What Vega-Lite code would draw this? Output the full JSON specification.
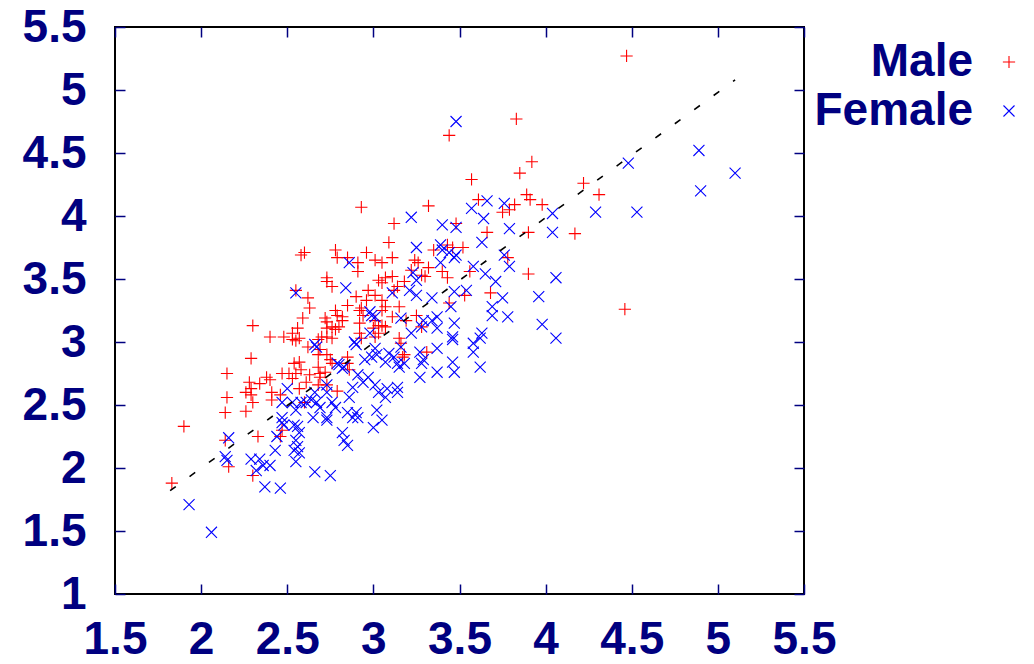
{
 "$schema": "https://vega.github.io/schema/vega-lite/v6.json",
 "width": 689,
 "height": 567,
 "autosize": {"type": "none"},
 "padding": {"left": 115, "top": 27, "right": 230, "bottom": 70},
 "background": "white",
 "config": {
  "view": {"stroke": "#000000", "strokeWidth": 2},
  "font": "Liberation Sans",
  "axis": {"grid": false, "domain": false, "title": null, "labelFont": "Liberation Sans", "labelFontSize": 46, "labelFontWeight": "bold", "labelColor": "#000080", "tickColor": "#000080", "tickWidth": 1.5, "tickSize": -10, "labelFlush": false, "labelOverlap": false, "labelBound": false}
 },
 "datasets": {
  "pts": [
   {"sex":"Male","x":2.30,"y":3.13},{"sex":"Male","x":2.40,"y":3.04},{"sex":"Male","x":2.48,"y":3.04},{"sex":"Male","x":2.53,"y":3.02},{"sex":"Male","x":2.55,"y":3.01},{"sex":"Male","x":2.53,"y":3.07},{"sex":"Male","x":2.29,"y":2.87},{"sex":"Male","x":2.54,"y":2.83},{"sex":"Male","x":2.55,"y":3.41},
   {"sex":"Male","x":2.15,"y":2.75},{"sex":"Male","x":2.28,"y":2.68},{"sex":"Male","x":2.29,"y":2.63},{"sex":"Male","x":2.34,"y":2.67},{"sex":"Male","x":2.38,"y":2.72},{"sex":"Male","x":2.40,"y":2.70},{"sex":"Male","x":2.26,"y":2.60},{"sex":"Male","x":2.29,"y":2.58},{"sex":"Male","x":2.41,"y":2.60},{"sex":"Male","x":2.41,"y":2.54},{"sex":"Male","x":2.15,"y":2.56},{"sex":"Male","x":2.30,"y":2.52},{"sex":"Male","x":2.14,"y":2.44},{"sex":"Male","x":2.26,"y":2.45},{"sex":"Male","x":1.90,"y":2.33},{"sex":"Male","x":2.33,"y":2.25},{"sex":"Male","x":2.14,"y":2.22},{"sex":"Male","x":2.16,"y":2.01},{"sex":"Male","x":2.30,"y":1.94},{"sex":"Male","x":2.46,"y":2.25},{"sex":"Male","x":2.47,"y":2.30},{"sex":"Male","x":1.83,"y":1.88},{"sex":"Male","x":2.47,"y":2.75},{"sex":"Male","x":2.51,"y":2.75},{"sex":"Male","x":2.55,"y":2.75},{"sex":"Male","x":2.53,"y":2.71},{"sex":"Male","x":2.46,"y":2.58},
   {"sex":"Male","x":2.93,"y":4.07},{"sex":"Male","x":3.12,"y":3.94},{"sex":"Male","x":3.09,"y":3.79},{"sex":"Male","x":2.60,"y":3.71},{"sex":"Male","x":2.58,"y":3.69},{"sex":"Male","x":2.78,"y":3.73},{"sex":"Male","x":2.79,"y":3.67},{"sex":"Male","x":2.85,"y":3.67},{"sex":"Male","x":2.91,"y":3.63},{"sex":"Male","x":2.91,"y":3.56},{"sex":"Male","x":2.96,"y":3.71},{"sex":"Male","x":3.01,"y":3.65},{"sex":"Male","x":3.05,"y":3.63},{"sex":"Male","x":3.11,"y":3.67},{"sex":"Male","x":2.73,"y":3.51},{"sex":"Male","x":2.76,"y":3.44},{"sex":"Male","x":2.73,"y":3.48},{"sex":"Male","x":3.24,"y":3.65},{"sex":"Male","x":3.26,"y":3.63},{"sex":"Male","x":3.22,"y":3.57},{"sex":"Male","x":3.28,"y":3.53},{"sex":"Male","x":3.32,"y":3.59},{"sex":"Male","x":3.30,"y":3.52},{"sex":"Male","x":3.03,"y":3.49},{"sex":"Male","x":3.07,"y":3.51},{"sex":"Male","x":3.11,"y":3.52},{"sex":"Male","x":3.05,"y":3.47},{"sex":"Male","x":3.18,"y":3.48},{"sex":"Male","x":3.14,"y":3.44},{"sex":"Male","x":3.12,"y":3.41},{"sex":"Male","x":2.97,"y":3.41},{"sex":"Male","x":3.01,"y":3.37},{"sex":"Male","x":2.96,"y":3.33},{"sex":"Male","x":2.90,"y":3.36},{"sex":"Male","x":2.92,"y":3.25},{"sex":"Male","x":2.85,"y":3.29},{"sex":"Male","x":2.62,"y":3.35},{"sex":"Male","x":2.63,"y":3.27},{"sex":"Male","x":3.05,"y":3.33},{"sex":"Male","x":3.05,"y":3.25},{"sex":"Male","x":3.07,"y":3.28},{"sex":"Male","x":3.15,"y":3.28},{"sex":"Male","x":2.78,"y":3.25},{"sex":"Male","x":2.79,"y":3.21},{"sex":"Male","x":2.82,"y":3.17},{"sex":"Male","x":2.82,"y":3.20},{"sex":"Male","x":2.72,"y":3.19},{"sex":"Male","x":2.73,"y":3.16},{"sex":"Male","x":2.76,"y":3.12},{"sex":"Male","x":2.73,"y":3.11},{"sex":"Male","x":2.78,"y":3.10},{"sex":"Male","x":2.80,"y":3.12},{"sex":"Male","x":2.59,"y":3.19},{"sex":"Male","x":2.93,"y":3.27},{"sex":"Male","x":2.94,"y":3.21},{"sex":"Male","x":2.92,"y":3.15},{"sex":"Male","x":3.01,"y":3.17},{"sex":"Male","x":3.03,"y":3.13},{"sex":"Male","x":3.05,"y":3.13},{"sex":"Male","x":3.07,"y":3.12},{"sex":"Male","x":3.00,"y":3.11},{"sex":"Male","x":3.11,"y":3.20},{"sex":"Male","x":3.25,"y":3.21},{"sex":"Male","x":2.56,"y":3.11},{"sex":"Male","x":2.57,"y":3.03},{"sex":"Male","x":2.70,"y":3.04},{"sex":"Male","x":2.68,"y":3.02},{"sex":"Male","x":2.73,"y":3.04},{"sex":"Male","x":2.76,"y":3.03},{"sex":"Male","x":2.92,"y":3.07},{"sex":"Male","x":2.93,"y":3.03},{"sex":"Male","x":3.01,"y":3.04},{"sex":"Male","x":3.03,"y":3.07},{"sex":"Male","x":3.15,"y":3.03},{"sex":"Male","x":3.16,"y":2.99},{"sex":"Male","x":2.62,"y":2.96},{"sex":"Male","x":2.69,"y":2.94},{"sex":"Male","x":2.68,"y":2.90},{"sex":"Male","x":2.73,"y":2.90},{"sex":"Male","x":2.75,"y":2.86},{"sex":"Male","x":2.76,"y":2.83},{"sex":"Male","x":2.57,"y":2.84},{"sex":"Male","x":2.58,"y":2.78},{"sex":"Male","x":2.85,"y":2.88},{"sex":"Male","x":2.85,"y":2.83},{"sex":"Male","x":2.86,"y":2.78},{"sex":"Male","x":3.17,"y":2.88},{"sex":"Male","x":3.18,"y":2.90},{"sex":"Male","x":3.31,"y":2.92},{"sex":"Male","x":2.68,"y":2.80},{"sex":"Male","x":2.69,"y":2.75},{"sex":"Male","x":3.19,"y":3.17},{"sex":"Male","x":3.28,"y":3.12},{"sex":"Male","x":3.32,"y":4.08},
   {"sex":"Male","x":2.61,"y":2.68},{"sex":"Male","x":2.63,"y":2.74},{"sex":"Male","x":2.69,"y":2.72},{"sex":"Male","x":2.72,"y":2.76},{"sex":"Male","x":2.73,"y":2.66},{"sex":"Male","x":2.79,"y":2.61},{"sex":"Male","x":2.60,"y":2.52},{"sex":"Male","x":2.57,"y":2.63},{"sex":"Male","x":2.68,"y":2.66},
   {"sex":"Male","x":3.89,"y":4.17},{"sex":"Male","x":3.91,"y":4.13},{"sex":"Male","x":3.98,"y":4.09},{"sex":"Male","x":3.61,"y":4.13},{"sex":"Male","x":3.75,"y":4.03},{"sex":"Male","x":3.79,"y":4.05},{"sex":"Male","x":3.82,"y":4.09},{"sex":"Male","x":3.48,"y":3.94},{"sex":"Male","x":3.66,"y":3.87},{"sex":"Male","x":3.90,"y":3.87},{"sex":"Male","x":3.43,"y":3.77},{"sex":"Male","x":3.46,"y":3.75},{"sex":"Male","x":3.52,"y":3.75},{"sex":"Male","x":3.35,"y":3.73},{"sex":"Male","x":3.78,"y":3.67},{"sex":"Male","x":3.40,"y":3.56},{"sex":"Male","x":3.43,"y":3.51},{"sex":"Male","x":3.56,"y":3.56},{"sex":"Male","x":3.90,"y":3.54},{"sex":"Male","x":3.68,"y":3.39},{"sex":"Male","x":3.53,"y":3.37},{"sex":"Male","x":3.44,"y":3.31},{"sex":"Male","x":3.83,"y":4.77},{"sex":"Male","x":3.44,"y":4.64},{"sex":"Male","x":3.92,"y":4.43},{"sex":"Male","x":3.85,"y":4.34},{"sex":"Male","x":3.57,"y":4.29},{"sex":"Male","x":4.22,"y":4.26},{"sex":"Male","x":4.31,"y":4.17},{"sex":"Male","x":4.17,"y":3.86},{"sex":"Male","x":4.46,"y":3.26},{"sex":"Male","x":4.47,"y":5.27},
   {"sex":"Female","x":2.55,"y":3.39},
   {"sex":"Female","x":2.50,"y":2.63},{"sex":"Female","x":2.47,"y":2.52},{"sex":"Female","x":2.53,"y":2.52},{"sex":"Female","x":2.55,"y":2.46},{"sex":"Female","x":2.47,"y":2.40},{"sex":"Female","x":2.47,"y":2.36},{"sex":"Female","x":2.48,"y":2.34},{"sex":"Female","x":2.54,"y":2.34},{"sex":"Female","x":2.55,"y":2.22},{"sex":"Female","x":2.54,"y":2.14},{"sex":"Female","x":2.55,"y":2.05},{"sex":"Female","x":2.44,"y":2.25},{"sex":"Female","x":2.43,"y":2.14},{"sex":"Female","x":2.16,"y":2.24},{"sex":"Female","x":2.14,"y":2.09},{"sex":"Female","x":2.15,"y":2.06},{"sex":"Female","x":2.29,"y":2.07},{"sex":"Female","x":2.34,"y":2.07},{"sex":"Female","x":2.36,"y":2.02},{"sex":"Female","x":2.40,"y":2.02},{"sex":"Female","x":2.32,"y":1.98},{"sex":"Female","x":2.37,"y":1.85},{"sex":"Female","x":2.46,"y":1.84},{"sex":"Female","x":1.93,"y":1.71},{"sex":"Female","x":2.06,"y":1.49},
   {"sex":"Female","x":3.22,"y":3.99},{"sex":"Female","x":3.25,"y":3.75},{"sex":"Female","x":2.86,"y":3.63},{"sex":"Female","x":2.84,"y":3.43},{"sex":"Female","x":3.11,"y":3.39},{"sex":"Female","x":3.21,"y":3.41},{"sex":"Female","x":3.25,"y":3.37},{"sex":"Female","x":3.34,"y":3.17},{"sex":"Female","x":3.29,"y":3.17},{"sex":"Female","x":2.98,"y":3.24},{"sex":"Female","x":2.99,"y":3.21},{"sex":"Female","x":3.01,"y":3.20},{"sex":"Female","x":3.16,"y":3.19},{"sex":"Female","x":3.22,"y":3.07},{"sex":"Female","x":3.28,"y":3.12},{"sex":"Female","x":2.98,"y":3.07},{"sex":"Female","x":2.89,"y":3.00},{"sex":"Female","x":2.90,"y":2.98},{"sex":"Female","x":3.01,"y":2.95},{"sex":"Female","x":2.95,"y":2.86},{"sex":"Female","x":2.99,"y":2.88},{"sex":"Female","x":3.02,"y":2.90},{"sex":"Female","x":2.66,"y":2.98},{"sex":"Female","x":2.67,"y":2.96},{"sex":"Female","x":2.79,"y":2.83},{"sex":"Female","x":2.83,"y":2.80},{"sex":"Female","x":2.82,"y":2.79},{"sex":"Female","x":3.09,"y":2.91},{"sex":"Female","x":3.12,"y":2.88},{"sex":"Female","x":3.16,"y":2.96},{"sex":"Female","x":3.14,"y":2.83},{"sex":"Female","x":3.15,"y":2.80},{"sex":"Female","x":3.18,"y":2.83},{"sex":"Female","x":3.27,"y":2.92},{"sex":"Female","x":3.29,"y":2.86},{"sex":"Female","x":3.28,"y":2.83},{"sex":"Female","x":3.23,"y":3.55},{"sex":"Female","x":3.25,"y":3.49},{"sex":"Female","x":3.07,"y":2.84},{"sex":"Female","x":2.80,"y":2.82},
   {"sex":"Female","x":3.27,"y":2.72},{"sex":"Female","x":2.91,"y":2.74},{"sex":"Female","x":2.97,"y":2.72},{"sex":"Female","x":2.94,"y":2.68},{"sex":"Female","x":3.01,"y":2.66},{"sex":"Female","x":3.03,"y":2.60},{"sex":"Female","x":3.08,"y":2.63},{"sex":"Female","x":3.14,"y":2.64},{"sex":"Female","x":3.14,"y":2.60},{"sex":"Female","x":3.07,"y":2.56},{"sex":"Female","x":2.88,"y":2.64},{"sex":"Female","x":2.86,"y":2.56},{"sex":"Female","x":2.73,"y":2.66},{"sex":"Female","x":2.73,"y":2.60},{"sex":"Female","x":2.76,"y":2.52},{"sex":"Female","x":2.78,"y":2.48},{"sex":"Female","x":2.66,"y":2.60},{"sex":"Female","x":2.61,"y":2.52},{"sex":"Female","x":2.64,"y":2.54},{"sex":"Female","x":2.67,"y":2.52},{"sex":"Female","x":2.69,"y":2.48},{"sex":"Female","x":2.73,"y":2.40},{"sex":"Female","x":2.73,"y":2.38},{"sex":"Female","x":2.65,"y":2.40},{"sex":"Female","x":2.58,"y":2.52},{"sex":"Female","x":2.85,"y":2.44},{"sex":"Female","x":2.91,"y":2.40},{"sex":"Female","x":2.88,"y":2.40},{"sex":"Female","x":2.90,"y":2.44},{"sex":"Female","x":3.02,"y":2.46},{"sex":"Female","x":3.05,"y":2.38},{"sex":"Female","x":3.00,"y":2.32},{"sex":"Female","x":2.82,"y":2.28},{"sex":"Female","x":2.83,"y":2.22},{"sex":"Female","x":2.85,"y":2.18},{"sex":"Female","x":2.56,"y":2.33},{"sex":"Female","x":2.57,"y":2.28},{"sex":"Female","x":2.56,"y":2.17},{"sex":"Female","x":2.57,"y":2.12},{"sex":"Female","x":2.66,"y":1.97},{"sex":"Female","x":2.75,"y":1.94},
   {"sex":"Female","x":3.57,"y":4.06},{"sex":"Female","x":3.66,"y":4.12},{"sex":"Female","x":3.76,"y":4.10},{"sex":"Female","x":4.04,"y":4.02},{"sex":"Female","x":3.40,"y":3.93},{"sex":"Female","x":3.48,"y":3.91},{"sex":"Female","x":3.64,"y":3.98},{"sex":"Female","x":3.79,"y":3.90},{"sex":"Female","x":4.04,"y":3.87},{"sex":"Female","x":3.63,"y":3.79},{"sex":"Female","x":3.39,"y":3.77},{"sex":"Female","x":3.40,"y":3.73},{"sex":"Female","x":3.44,"y":3.71},{"sex":"Female","x":3.48,"y":3.69},{"sex":"Female","x":3.47,"y":3.67},{"sex":"Female","x":3.39,"y":3.63},{"sex":"Female","x":3.76,"y":3.69},{"sex":"Female","x":3.79,"y":3.60},{"sex":"Female","x":3.58,"y":3.60},{"sex":"Female","x":3.65,"y":3.54},{"sex":"Female","x":4.06,"y":3.51},{"sex":"Female","x":3.71,"y":3.48},{"sex":"Female","x":3.47,"y":3.40},{"sex":"Female","x":3.54,"y":3.41},{"sex":"Female","x":3.34,"y":3.35},{"sex":"Female","x":3.75,"y":3.35},{"sex":"Female","x":3.69,"y":3.28},{"sex":"Female","x":3.69,"y":3.21},{"sex":"Female","x":3.78,"y":3.20},{"sex":"Female","x":3.96,"y":3.36},{"sex":"Female","x":3.45,"y":3.28},{"sex":"Female","x":3.37,"y":3.20},{"sex":"Female","x":3.37,"y":3.11},{"sex":"Female","x":3.47,"y":3.15},{"sex":"Female","x":3.98,"y":3.14},{"sex":"Female","x":3.46,"y":3.04},{"sex":"Female","x":3.46,"y":3.02},{"sex":"Female","x":3.63,"y":3.07},{"sex":"Female","x":3.62,"y":3.03},{"sex":"Female","x":3.58,"y":2.99},{"sex":"Female","x":3.58,"y":2.92},{"sex":"Female","x":4.06,"y":3.03},{"sex":"Female","x":3.37,"y":2.95},{"sex":"Female","x":3.46,"y":2.84},{"sex":"Female","x":3.37,"y":2.76},{"sex":"Female","x":3.47,"y":2.76},{"sex":"Female","x":3.62,"y":2.80},{"sex":"Female","x":3.48,"y":4.75},{"sex":"Female","x":4.89,"y":4.52},{"sex":"Female","x":4.48,"y":4.42},{"sex":"Female","x":5.10,"y":4.34},{"sex":"Female","x":4.90,"y":4.20},{"sex":"Female","x":4.29,"y":4.03},{"sex":"Female","x":4.53,"y":4.03}
  ],
  "diag": [{"x": 1.82, "y": 1.82}, {"x": 5.1, "y": 5.08}]
 },
 "layer": [
  {
   "data": {"name": "pts"},
   "mark": {"type": "point", "filled": false, "strokeWidth": 1.1, "size": 150, "opacity": 1},
   "encoding": {
    "x": {"field": "x", "type": "quantitative", "scale": {"domain": [1.5, 5.5], "nice": false, "zero": false}, "axis": {"orient": "bottom", "values": [1.5, 2, 2.5, 3, 3.5, 4, 4.5, 5, 5.5], "format": "~g", "labelPadding": 33}},
    "y": {"field": "y", "type": "quantitative", "scale": {"domain": [1, 5.5], "nice": false, "zero": false}, "axis": {"orient": "left", "values": [1, 1.5, 2, 2.5, 3, 3.5, 4, 4.5, 5, 5.5], "format": "~g", "labelPadding": 39}},
    "color": {"field": "sex", "type": "nominal", "scale": {"domain": ["Male", "Female"], "range": ["#ff0000", "#0000ff"]},
     "legend": {"title": null, "orient": "none", "legendX": 871, "legendY": 12, "labelAlign": "right", "labelOffset": -59, "labelFont": "Liberation Sans", "labelFontSize": 46, "labelFontWeight": "bold", "labelColor": "#000080", "labelLimit": 0, "rowPadding": 3, "symbolStrokeWidth": 1.1, "symbolSize": 150}},
    "shape": {"field": "sex", "type": "nominal", "scale": {"domain": ["Male", "Female"], "range": ["M-1,0H1M0,-1V1", "M-0.9,-0.9L0.9,0.9M-0.9,0.9L0.9,-0.9"]},
     "legend": {"title": null, "orient": "none", "legendX": 871, "legendY": 12, "labelAlign": "right", "labelOffset": -59, "labelFont": "Liberation Sans", "labelFontSize": 46, "labelFontWeight": "bold", "labelColor": "#000080", "labelLimit": 0, "rowPadding": 3, "symbolStrokeWidth": 1.1, "symbolSize": 150}}
   }
  },
  {
   "data": {"name": "diag"},
   "mark": {"type": "line", "color": "#000000", "strokeWidth": 1.6, "strokeDash": [7, 17]},
   "encoding": {
    "x": {"field": "x", "type": "quantitative", "axis": {"orient": "top", "labels": false, "tickSize": -10, "values": [1.5, 2, 2.5, 3, 3.5, 4, 4.5, 5, 5.5]}},
    "y": {"field": "y", "type": "quantitative", "axis": {"orient": "right", "labels": false, "tickSize": -10, "values": [1, 1.5, 2, 2.5, 3, 3.5, 4, 4.5, 5, 5.5]}}
   }
  }
 ],
 "resolve": {"axis": {"x": "independent", "y": "independent"}}
}
